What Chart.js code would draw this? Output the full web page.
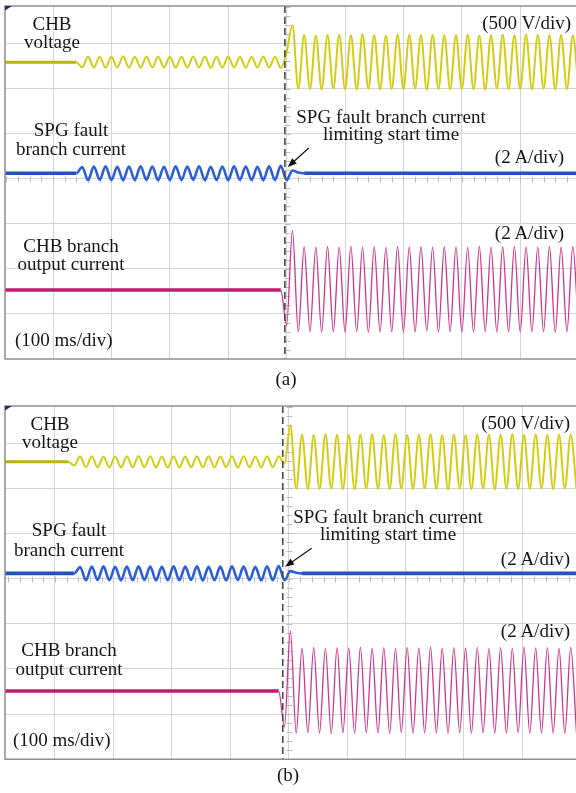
<!DOCTYPE html>
<html>
<head>
<meta charset="utf-8">
<script src="https://cdn.jsdelivr.net/npm/chart.js@4.4.1/dist/chart.umd.min.js"></script>
<style>
  html, body { margin: 0; padding: 0; background: #fff; }
  #page { position: relative; width: 576px; height: 793px; overflow: hidden; }
  canvas { position: absolute; left: 0; }
  .lbl { position: absolute; font-family: "Liberation Serif", "Times New Roman", serif; font-size: 19px; color: #151515; white-space: nowrap; line-height: 18px; }
  .c { text-align: center; width: 140px; }
  .w { text-align: center; width: 240px; line-height: 17.5px; }
  .r { text-align: right; width: 150px; }
</style>
</head>
<body>
<div id="page">
  <canvas id="scopeA" width="576" height="380" style="top:0"></canvas>
  <canvas id="scopeB" width="576" height="393" style="top:400px"></canvas>

  <div class="lbl c" style="left:-18px;top:14.6px">CHB<br>voltage</div>
  <div class="lbl r" style="left:421px;top:13.9px">(500 V/div)</div>
  <div class="lbl c" style="left:1px;top:119.8px;line-height:19px">SPG fault<br>branch current</div>
  <div class="lbl w" style="left:271px;top:107.5px">SPG fault branch current<br>limiting start time</div>
  <div class="lbl r" style="left:414px;top:147.9px">(2 A/div)</div>
  <div class="lbl r" style="left:414px;top:223.9px">(2 A/div)</div>
  <div class="lbl c" style="left:1px;top:237.3px">CHB branch<br>output current</div>
  <div class="lbl" style="left:15px;top:331.3px">(100 ms/div)</div>
  <div class="lbl c" style="left:216px;top:369.6px">(a)</div>

  <div class="lbl c" style="left:-20px;top:414.6px">CHB<br>voltage</div>
  <div class="lbl r" style="left:420px;top:413.9px">(500 V/div)</div>
  <div class="lbl c" style="left:-1px;top:520.3px;line-height:20px">SPG fault<br>branch current</div>
  <div class="lbl w" style="left:268px;top:507.5px">SPG fault branch current<br>limiting start time</div>
  <div class="lbl r" style="left:420px;top:549.6px">(2 A/div)</div>
  <div class="lbl r" style="left:420px;top:621.9px">(2 A/div)</div>
  <div class="lbl c" style="left:-1px;top:640.1px;line-height:19px">CHB branch<br>output current</div>
  <div class="lbl" style="left:13px;top:731.3px">(100 ms/div)</div>
  <div class="lbl c" style="left:218px;top:766.3px">(b)</div>
</div>

<script>
// sample instants (ms), one list per capture
var timesA = [0, 10, 20, 30, 40, 50, 60, 70, 80, 90, 100, 110, 120, 130, 140, 150, 160, 170, 180, 190,
  200, 210, 220, 230, 240, 250, 260, 270, 280, 290, 300, 310, 320, 330, 340, 350, 360, 370, 380, 390,
  400, 410, 420, 430, 440, 450, 460, 470, 480, 490, 500, 510, 520, 530, 540, 550, 560, 570, 580, 590,
  600, 610, 620, 630, 640, 650, 660, 670, 680, 690, 700, 710, 720, 730, 740, 750, 760, 770, 780, 790,
  800, 810, 820, 830, 840, 850, 860, 870, 880, 890, 900, 910, 920, 930, 940, 950, 960, 970, 980, 990, 1000];
var timesB = [3, 13, 23, 33, 43, 53, 63, 73, 83, 93, 103, 113, 123, 133, 143, 153, 163, 173, 183, 193,
  203, 213, 223, 233, 243, 253, 263, 273, 283, 293, 303, 313, 323, 333, 343, 353, 363, 373, 383, 393,
  403, 413, 423, 433, 443, 453, 463, 473, 483, 493, 503, 513, 523, 533, 543, 553, 563, 573, 583, 593,
  603, 613, 623, 633, 643, 653, 663, 673, 683, 693, 703, 713, 723, 733, 743, 753, 763, 773, 783, 793,
  803, 813, 823, 833, 843, 853, 863, 873, 883, 893, 903, 913, 923, 933, 943, 953, 963, 973, 983, 993];

// (a) CHB voltage, V
var voltA = [0, 0, 0, 0, 0, 0, 0, 0, 0, 0, 0, 0, 0, 0, 0,
  -58, 63, -61, 60, -63, 61, -60, 64, -62, 59, -61, 62, -60, 63, -59, 61, -62, 60, -61, 63,
  -60, 62, -63, 59, -61, 62, -60, 61, -62, 60, -59, 63, -61, 60, -64,
  110, 410,
  -295, 302, -298, 296, -305, 300, -292, 304, -300, 297, -303, 306, -296, 299, -301, 293, -298, 305, -302, 300,
  -294, 298, -306, 301, -299, 295, -303, 302, -297, 304, -300, 296, -305, 299, -293, 303, -301, 297, -298, 306,
  -302, 300, -296, 298, -304, 301, -299, 295, -300];
// (a) SPG fault branch current, A
var spgA = [0, 0, 0, 0, 0, 0, 0, 0, 0, 0, 0, 0, 0, 0, 0,
  0.28, -0.31, 0.30, -0.29, 0.31, -0.30, 0.29, -0.31, 0.30, -0.30, 0.31, -0.29, 0.30, -0.31, 0.29, -0.30, 0.31, -0.30,
  0.30, -0.29, 0.31, -0.31, 0.29, -0.30, 0.30, -0.31, 0.31, -0.29, 0.30, -0.30, 0.29, -0.31, 0.31, -0.30, 0.33,
  -0.30, 0.12, 0.03,
  0, 0, 0, 0, 0, 0, 0, 0, 0, 0, 0, 0, 0, 0, 0, 0, 0, 0, 0, 0, 0, 0, 0, 0,
  0, 0, 0, 0, 0, 0, 0, 0, 0, 0, 0, 0, 0, 0, 0, 0, 0, 0, 0, 0, 0, 0, 0, 0];
// (a) CHB branch output current, A
var chbA = [0, 0, 0, 0, 0, 0, 0, 0, 0, 0, 0, 0, 0, 0, 0, 0, 0, 0, 0, 0, 0, 0, 0, 0, 0,
  0, 0, 0, 0, 0, 0, 0, 0, 0, 0, 0, 0, 0, 0, 0, 0, 0, 0, 0, 0, 0, 0, 0, 0, 0,
  -1.55, 2.65,
  -1.86, 1.92, -1.84, 1.90, -1.88, 1.93, -1.85, 1.91, -1.87, 1.95, -1.84, 1.90, -1.88, 1.92, -1.86, 1.89, -1.85, 1.93,
  -1.87, 1.91, -1.86, 1.94, -1.83, 1.90, -1.88, 1.92, -1.85, 1.91, -1.87, 1.89, -1.86, 1.93, -1.84, 1.90, -1.88, 1.92,
  -1.85, 1.94, -1.87, 1.91, -1.86, 1.90, -1.84, 1.93, -1.88, 1.91, -1.85, 1.92, -1.86];

// (b) CHB voltage, V
var voltB = [0, 0, 0, 0, 0, 0, 0, 0, 0, 0, 0, 0, 0,
  -40,
  61, -60, 63, -61, 59, -62, 60, -61, 62, -60, 64, -59, 61, -62, 60, -63, 61, -60,
  59, -61, 62, -60, 63, -62, 60, -59, 61, -63, 62, -60, 59, -61, 63, -60, 62,
  -20, 405,
  -298, 301, -303, 297, -300, 305, -294, 299, -302, 296, -305, 300, -297, 303, -299, 294, -301, 306, -296, 298,
  -303, 300, -292, 304, -300, 297, -305, 301, -298, 295, -302, 303, -296, 299, -304, 300, -297, 305, -301, 296,
  -299, 302, -294, 298, -303, 300, -296, 301, -299];
// (b) SPG fault branch current, A
var spgB = [0, 0, 0, 0, 0, 0, 0, 0, 0, 0, 0, 0, 0, 0,
  0.28, -0.31, 0.30, -0.29, 0.31, -0.30, 0.29, -0.31, 0.30, -0.30, 0.31, -0.29, 0.30, -0.31, 0.29, -0.30, 0.31, -0.30,
  0.30, -0.29, 0.31, -0.31, 0.29, -0.30, 0.30, -0.31, 0.31, -0.29, 0.30, -0.30, 0.29, -0.31, 0.31, -0.30, 0.32,
  -0.30, 0.10, 0.03,
  0, 0, 0, 0, 0, 0, 0, 0, 0, 0, 0, 0, 0, 0, 0, 0, 0, 0, 0, 0, 0, 0, 0, 0,
  0, 0, 0, 0, 0, 0, 0, 0, 0, 0, 0, 0, 0, 0, 0, 0, 0, 0, 0, 0, 0, 0, 0, 0];
// (b) CHB branch output current, A
var chbB = [0, 0, 0, 0, 0, 0, 0, 0, 0, 0, 0, 0, 0, 0, 0, 0, 0, 0, 0, 0, 0, 0, 0, 0, 0,
  0, 0, 0, 0, 0, 0, 0, 0, 0, 0, 0, 0, 0, 0, 0, 0, 0, 0, 0, 0, 0, 0, 0, 0,
  -1.58, 2.67,
  -1.87, 1.90, -1.85, 1.93, -1.86, 1.89, -1.88, 1.92, -1.84, 1.91, -1.87, 1.94, -1.85, 1.90, -1.86, 1.92, -1.88, 1.89,
  -1.84, 1.93, -1.87, 1.91, -1.85, 1.95, -1.86, 1.90, -1.88, 1.92, -1.84, 1.91, -1.87, 1.93, -1.85, 1.89, -1.86, 1.92,
  -1.88, 1.90, -1.84, 1.94, -1.87, 1.91, -1.85, 1.92, -1.86, 1.90, -1.88, 1.93, -1.85];

// scope settings
var voltPerDiv = 500;
var ampPerDiv = 2;
var offsetsA = [6.585, 4.12, 1.53];   // channel positions in div
var offsetsB = [6.584, 4.115, 1.511];
var faultA = 497, faultB = 490;       // current limiting start, ms
var xGridMs = [100, 200, 300, 400, 500, 600, 700, 800, 900];
var yGridDiv = [1, 2, 3, 4, 5, 6, 7];

function trace(times, values, offset, perDiv, color, flatColor, waveW, flatW) {
  return {
    data: times.map(function (t, i) { return { x: t, y: offset + values[i] / perDiv }; }),
    borderColor: color,
    borderWidth: waveW,
    pointRadius: 0,
    cubicInterpolationMode: "monotone",
    segment: {
      borderWidth: function (c) { return c.p0.parsed.y === c.p1.parsed.y ? flatW : waveW; },
      borderColor: function (c) { return c.p0.parsed.y === c.p1.parsed.y ? flatColor : color; },
    },
  };
}

var scopeDecor = {
  id: "scopeDecor",
  beforeDatasetsDraw: function (chart, args, o) {
    var ctx = chart.ctx, a = chart.chartArea, x = chart.scales.x, y = chart.scales.y;
    var xc = x.getPixelForValue(500), yc = Math.round(y.getPixelForValue(4)) + 0.5;
    xc = Math.round(xc) + 0.5;
    ctx.save();
    ctx.strokeStyle = "#bdbdbd";
    ctx.lineWidth = 1;
    ctx.beginPath();
    for (var t = 0; t <= 1000; t += 20) {
      var px = Math.round(x.getPixelForValue(t)) + 0.5;
      if (px < a.left || px > a.right) continue;
      ctx.moveTo(px, yc - 3); ctx.lineTo(px, yc + 3);
    }
    for (var k = 0; k <= 40; k++) {
      var py = Math.round(y.getPixelForValue(k / 5)) + 0.5;
      if (py < a.top || py > a.bottom) continue;
      ctx.moveTo(xc - 3, py); ctx.lineTo(xc + 3, py);
    }
    ctx.stroke();
    ctx.restore();
  },
  afterDatasetsDraw: function (chart, args, o) {
    var ctx = chart.ctx, a = chart.chartArea, x = chart.scales.x, y = chart.scales.y;
    ctx.save();
    // fault instant
    var fx = x.getPixelForValue(o.fault);
    ctx.strokeStyle = "#4a4a4a";
    ctx.lineWidth = 1.6;
    ctx.setLineDash([7, 4]);
    ctx.beginPath(); ctx.moveTo(fx, a.top); ctx.lineTo(fx, a.bottom); ctx.stroke();
    ctx.setLineDash([]);
    // arrow to the limiting start
    var x0 = x.getPixelForValue(o.arrowFrom[0]), y0 = y.getPixelForValue(o.arrowFrom[1]);
    var x1 = x.getPixelForValue(o.arrowTo[0]), y1 = y.getPixelForValue(o.arrowTo[1]);
    var ang = Math.atan2(y1 - y0, x1 - x0);
    ctx.strokeStyle = "#111"; ctx.fillStyle = "#111"; ctx.lineWidth = 1.2;
    ctx.beginPath(); ctx.moveTo(x0, y0);
    ctx.lineTo(x1 - 7 * Math.cos(ang), y1 - 7 * Math.sin(ang)); ctx.stroke();
    ctx.beginPath();
    ctx.moveTo(x1, y1);
    ctx.lineTo(x1 - 9 * Math.cos(ang) + 3.5 * Math.sin(ang), y1 - 9 * Math.sin(ang) - 3.5 * Math.cos(ang));
    ctx.lineTo(x1 - 9 * Math.cos(ang) - 3.5 * Math.sin(ang), y1 - 9 * Math.sin(ang) + 3.5 * Math.cos(ang));
    ctx.closePath(); ctx.fill();
    // screen frame
    ctx.strokeStyle = "#8f8f8f"; ctx.lineWidth = 1.5;
    ctx.beginPath();
    ctx.moveTo(a.right + 2, a.top); ctx.lineTo(a.left, a.top);
    ctx.lineTo(a.left, a.bottom); ctx.lineTo(a.right + 2, a.bottom);
    ctx.stroke();
    // trigger marker
    ctx.fillStyle = "#1d2f78";
    ctx.beginPath(); ctx.moveTo(a.left, a.top); ctx.lineTo(a.left + 7, a.top); ctx.lineTo(a.left, a.top + 4.5);
    ctx.closePath(); ctx.fill();
    ctx.restore();
  },
};

function makeScope(id, times, volt, spg, chb, offs, xMin, xMax, yMax, padBottom, fault, arrowFrom, arrowTo) {
  return new Chart(document.getElementById(id), {
    type: "line",
    data: {
      datasets: [
        trace(times, volt, offs[0], voltPerDiv, "#d3cd12", "#b9b30c", 2, 3),
        trace(times, spg, offs[1], ampPerDiv, "#2c5ed6", "#2451c4", 2.6, 3.6),
        trace(times, chb, offs[2], ampPerDiv, "#cf358a", "#c2186f", 1.3, 3.6),
      ],
    },
    options: {
      responsive: false,
      animation: false,
      events: [],
      devicePixelRatio: 1,
      layout: { padding: { left: 5, top: 6, right: 0, bottom: padBottom } },
      plugins: {
        legend: { display: false },
        tooltip: { enabled: false },
        scopeDecor: { fault: fault, arrowFrom: arrowFrom, arrowTo: arrowTo },
      },
      scales: {
        x: {
          type: "linear",
          min: xMin,
          max: xMax,
          ticks: { display: false },
          grid: { color: "#d5d5d5", lineWidth: 1, drawTicks: false },
          border: { display: false },
          afterBuildTicks: function (s) { s.ticks = xGridMs.map(function (v) { return { value: v }; }); },
        },
        y: {
          type: "linear",
          min: 0,
          max: yMax,
          ticks: { display: false },
          grid: { color: "#d5d5d5", lineWidth: 1, drawTicks: false },
          border: { display: false },
          afterBuildTicks: function (s) { s.ticks = yGridDiv.map(function (v) { return { value: v }; }); },
        },
      },
    },
    plugins: [scopeDecor],
  });
}

makeScope("scopeA", timesA, voltA, spgA, chbA, offsetsA, 17.8, 995.5, 7.83, 21, faultA, [538, 4.68], [502, 4.26]);
makeScope("scopeB", timesB, voltB, spgB, chbB, offsetsB, 14.4, 992.1, 7.82, 33.7, faultB, [539.5, 4.67], [494, 4.26]);
</script>
</body>
</html>
